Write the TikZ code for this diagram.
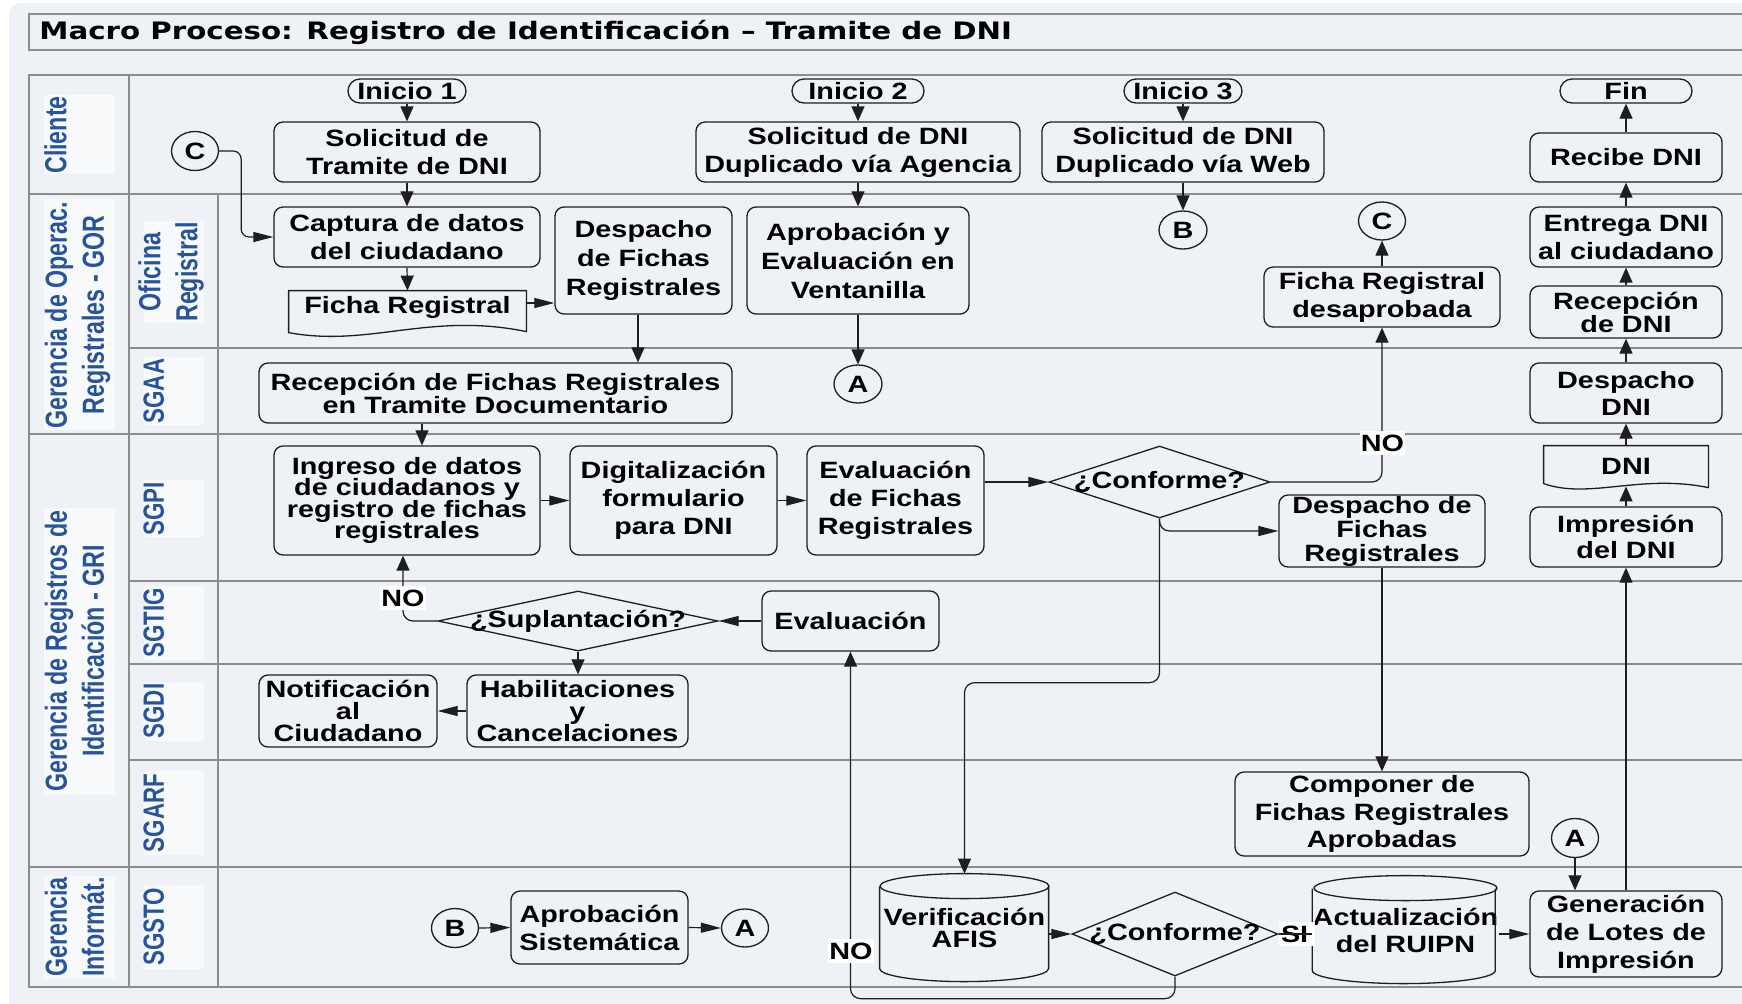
\documentclass[tikz,border=0pt]{standalone}
\usepackage{fontspec}
\usepackage{graphicx}
\usetikzlibrary{arrows.meta,shapes.geometric,calc}
\setmainfont{Liberation Sans}
\newfontfamily\boxfont{Liberation Sans}[FakeStretch=1.22]
\newfontfamily\titlefont{DejaVu Sans}[FakeStretch=1.22]
\newfontfamily\lanefont{Liberation Sans}[FakeStretch=0.93]
\definecolor{pagebg}{HTML}{EEF1F6}
\definecolor{labelbg}{HTML}{F8F9FB}
\definecolor{lanetext}{HTML}{28549A}
\definecolor{gridline}{HTML}{8C8C8C}
\definecolor{inkline}{HTML}{1E1E1E}

% bold flowchart text, argument = baseline skip in pt
\newcommand{\flowfont}[1]{\boxfont\bfseries\fontsize{11.8pt}{#1pt}\selectfont\lineskiplimit=-20pt\relax}
% lane captions, widened across the text direction
\newcommand{\lanetxt}[1]{\scalebox{1}[1.22]{\lanefont\bfseries\fontsize{12.5pt}{15.2pt}\selectfont\begin{tabular}{@{}c@{}}#1\end{tabular}}}
\newcommand{\lanetxtb}[1]{\scalebox{1}[1.22]{\lanefont\bfseries\fontsize{12pt}{14pt}\selectfont\begin{tabular}{@{}c@{}}#1\end{tabular}}}
% database drum drawn around a named node: #1 node, #2 half width
\newcommand{\drawdrum}[2]{%
  \draw[shapeline] (#1.north west) ++(0,13) -- ++(0,82)
     arc[start angle=180,end angle=360,x radius=#2,y radius=6.5pt] -- ++(0,-82);
  \draw[shapeline] ($(#1.north)+(0,12.5)$) ellipse[x radius=#2,y radius=6.25pt];}

\tikzset{
  px/.style 2 args={minimum width=#1*0.5pt, minimum height=#2*0.5pt},
  shapeline/.style={draw=inkline, line width=0.65pt},
  proc/.style={shapeline, rounded corners=4.5pt, inner sep=0pt, align=center, font=\flowfont{14}},
  lead/.style={font=\flowfont{#1}},
  term/.style={proc, rounded corners=6pt},
  conn/.style={shapeline, ellipse, inner sep=0pt, font=\flowfont{14}},
  bare/.style={inner sep=0pt, align=center, font=\flowfont{14}},
  decision/.style={shapeline, diamond, inner sep=0pt, font=\flowfont{14}},
  flow/.style={draw=inkline, line width=0.6pt},
  ah/.style={flow, -{Triangle[length=10pt,width=5pt]}},
  av/.style={flow, -{Triangle[length=7.5pt,width=6.5pt]}},
  tag/.style={fill=white, inner xsep=0.5pt, inner ysep=2pt, font=\flowfont{14}},
  tablerule/.style={draw=gridline, line width=1pt},
  lanebox/.style={fill=labelbg},
  lane/.style={rotate=90, text=lanetext, inner sep=0pt},
}

\begin{document}
\begin{tikzpicture}[x=0.5pt, y=-0.5pt]
\useasboundingbox (0,0) rectangle (1742,1003);
\clip (0,0) rectangle (1742,1003);

% sheet
\fill[pagebg, rounded corners=6pt] (9,3) rectangle (1790,1040);

% title bar
\draw[tablerule] (29,14) rectangle (1790,50);
\node[anchor=west, inner sep=0pt, font=\titlefont\bfseries\fontsize{12pt}{14pt}\selectfont] (title) at (39,32)
  {Macro Proceso: Registro de Identificación – Tramite de DNI};

% swimlane table
\draw[tablerule] (29,75) rectangle (1790,987);
\draw[tablerule] (29,194) -- (1790,194);
\draw[tablerule] (29,434) -- (1790,434);
\draw[tablerule] (29,867) -- (1790,867);
\draw[tablerule] (129,348) -- (1790,348);
\draw[tablerule] (129,581) -- (1790,581);
\draw[tablerule] (129,664) -- (1790,664);
\draw[tablerule] (129,760) -- (1790,760);
\draw[tablerule] (129,75) -- (129,987);
\draw[tablerule] (218,194) -- (218,987);

% lane caption backgrounds
\fill[lanebox] (44,95) rectangle (115,174);
\fill[lanebox] (44,199) rectangle (115,430);
\fill[lanebox] (144,221) rectangle (204,323);
\fill[lanebox] (144,357) rectangle (204,425);
\fill[lanebox] (44,508) rectangle (115,795);
\fill[lanebox] (144,480) rectangle (204,537);
\fill[lanebox] (144,586) rectangle (204,660);
\fill[lanebox] (144,682) rectangle (204,741);
\fill[lanebox] (144,771) rectangle (204,855);
\fill[lanebox] (44,876) rectangle (115,978);
\fill[lanebox] (144,885) rectangle (204,969);

% lane captions
\node[lane] (lnCliente) at (59,135) {\lanetxt{Cliente}};
\node[lane] (lnGOR) at (78,315) {\lanetxt{Gerencia de Operac.\\Registrales - GOR}};
\node[lane] (lnOficina) at (171.5,272) {\lanetxt{Oficina\\Registral}};
\node[lane] (lnSGAA) at (157,391) {\lanetxtb{SGAA}};
\node[lane] (lnGRI) at (78,651) {\lanetxt{Gerencia de Registros de\\Identificación - GRI}};
\node[lane] (lnSGPI) at (157,509) {\lanetxtb{SGPI}};
\node[lane] (lnSGTIG) at (157,623) {\lanetxtb{SGTIG}};
\node[lane] (lnSGDI) at (157,711) {\lanetxtb{SGDI}};
\node[lane] (lnSGARF) at (157,813) {\lanetxtb{SGARF}};
\node[lane] (lnGI) at (78,927) {\lanetxt{Gerencia\\Informát.}};
\node[lane] (lnSGSTO) at (157,927) {\lanetxtb{SGSTO}};

% ---- Cliente
\node[term, px={118}{24}] (ini1) at (407,91) {Inicio 1};
\node[term, px={132}{24}] (ini2) at (858,91) {Inicio 2};
\node[term, px={118}{24}] (ini3) at (1183,91) {Inicio 3};
\node[term, px={132}{24}] (fin) at (1626,91) {Fin};
\node[proc, px={266}{60}] (sol1) at (407,152) {Solicitud de\\Tramite de DNI};
\node[proc, px={324}{60}] (sol2) at (858,152) {Solicitud de DNI\\Duplicado vía Agencia};
\node[proc, px={282}{60}] (sol3) at (1183,152) {Solicitud de DNI\\Duplicado vía Web};
\node[proc, px={192}{49}] (recibe) at (1626,157.5) {Recibe DNI};
\node[conn, px={47}{39}] (cC1) at (195,151) {C};

% ---- Oficina Registral
\node[proc, px={266}{60}] (captura) at (407,237) {Captura de datos\\del ciudadano};
\node[bare, px={237}{32}] (ficha) at (407.5,307) {Ficha Registral};
\draw[shapeline] (ficha.north west) -- (ficha.north east) -- ($(ficha.north east)+(0,41)$)
  .. controls ($(ficha.north west)+(141,21)$) and ($(ficha.north west)+(81,57)$) .. ($(ficha.north west)+(0,42)$) -- cycle;
\node[proc, lead=14.5, px={177}{107}] (despacho1) at (643.5,260.5) {Despacho\\de Fichas\\Registrales};
\node[proc, lead=14.5, px={222}{107}] (aprob) at (858,260.5) {Aprobación y\\Evaluación en\\Ventanilla};
\node[conn, px={48}{38}] (cB1) at (1183,230) {B};
\node[conn, px={47}{38}] (cC2) at (1382,221) {C};
\node[proc, px={236}{60}] (desaprob) at (1382,297) {Ficha Registral\\desaprobada};
\node[proc, px={192}{60}] (entrega) at (1626,237) {Entrega DNI\\al ciudadano};
\node[proc, lead=11.5, px={192}{52}] (recepDNI) at (1626,312) {Recepción\\de DNI};

% ---- SGAA
\node[proc, lead=11.5, px={473}{60}] (recepF) at (495.5,393) {Recepción de Fichas Registrales\\en Tramite Documentario};
\node[conn, px={48}{38}] (cA1) at (858,384) {A};
\node[proc, lead=13.5, px={192}{60}] (despDNI) at (1626,393) {Despacho\\DNI};

% ---- SGPI
\node[proc, lead=10.8, px={266}{109}] (ingreso) at (407,500.5) {Ingreso de datos\\de ciudadanos y\\registro de fichas\\registrales};
\node[proc, px={207}{109}] (digital) at (673.5,500.5) {Digitalización\\formulario\\para DNI};
\node[proc, px={177}{109}] (evalF) at (895.5,500.5) {Evaluación\\de Fichas\\Registrales};
\node[decision, px={221}{72}] (conf1) at (1159.5,482) {\makebox[0pt]{¿Conforme?}};
\node[proc, lead=12, px={206}{72}] (despF2) at (1382,531) {Despacho de\\Fichas\\Registrales};
\node[bare, px={164}{40}] (dni) at (1626,466) {DNI};
\draw[shapeline] (dni.north west) -- (dni.north east) -- ($(dni.north east)+(0,42)$)
  .. controls ($(dni.north west)+(96,28)$) and ($(dni.north west)+(46,54)$) .. ($(dni.north west)+(0,38)$) -- cycle;
\node[proc, lead=12.8, px={192}{60}] (impresion) at (1626,537) {Impresión\\del DNI};

% ---- SGTIG
\node[decision, px={280}{60}] (supl) at (578,621) {\makebox[0pt]{¿Suplantación?}};
\node[proc, px={177}{60}] (evalu) at (850.5,621) {Evaluación};

% ---- SGDI
\node[proc, lead=11, px={178}{72}] (notif) at (348,711) {Notificación\\al\\Ciudadano};
\node[proc, lead=11, px={221}{72}] (habil) at (577.5,711) {Habilitaciones\\y\\Cancelaciones};

% ---- SGARF
\node[proc, lead=13.7, px={294}{84}] (componer) at (1382,814) {Componer de\\Fichas Registrales\\Aprobadas};
\node[conn, px={47}{39}] (cA2) at (1575,838) {A};

% ---- SGSTO
\node[conn, px={47}{39}] (cB2) at (455,928) {B};
\node[proc, px={177}{73}] (aprobSis) at (599.5,927.5) {Aprobación\\Sistemática};
\node[conn, px={47}{38}] (cA3) at (745,928) {A};
\node[bare, lead=11, px={169}{108}] (afis) at (964.5,928) {Verificación\\AFIS};
\drawdrum{afis}{42.25pt}
\node[decision, px={206}{84}] (conf2) at (1175,934) {\makebox[0pt]{¿Conforme?}};
\node[bare, lead=13.5, px={183}{108}] (ruipn) at (1405.5,930) {Actualización\\del RUIPN};
\drawdrum{ruipn}{45.75pt}
\node[proc, px={192}{86}] (generacion) at (1626,934) {Generación\\de Lotes de\\Impresión};

% ---- connectors
\draw[av] (ini1.south) -- (sol1.north);
\draw[av] (sol1.south) -- (captura.north);
\draw[av] (captura.south) -- (ficha.north);
\draw[ah, rounded corners=4pt] (cC1.east) -- ++(22,0) |- (captura.west);
\draw[ah] ([yshift=2pt]ficha.east) -- ([yshift=2pt]ficha.east -| despacho1.west);
\draw[av] ([xshift=-2.75pt]despacho1.south) -- ([xshift=-2.75pt]despacho1.south |- recepF.north);
\draw[av] ([xshift=-36.75pt]recepF.south) -- ([xshift=7.5pt]ingreso.north);
\draw[av] (ini2.south) -- (sol2.north);
\draw[av] (sol2.south) -- (aprob.north);
\draw[av] (aprob.south) -- (cA1.north);
\draw[av] (ini3.south) -- (sol3.north);
\draw[av] (sol3.south) -- (cB1.north);
\draw[av] (desaprob.north) -- (cC2.south);
\draw[av] (recibe.north) -- (fin.south);
\draw[av] (entrega.north) -- (recibe.south);
\draw[av] (recepDNI.north) -- (entrega.south);
\draw[av] (despDNI.north) -- (recepDNI.south);
\draw[av] (dni.north) -- (despDNI.south);
\draw[av] (impresion.north) -- (dni.south);
\draw[av] (generacion.north) -- (impresion.south);
\draw[av] (cA2.south) -- (cA2.south |- generacion.north);
\draw[ah] (ruipn.east |- generacion.west) -- (generacion.west);
\draw[ah] (afis.east |- conf2.west) -- (conf2.west);
\draw[av, rounded corners=5pt] (conf2.south) -- ++(0,22) -| (evalu.south);
\draw[ah] (cB2.east) -- (aprobSis.west);
\draw[ah] (aprobSis.east) -- (cA3.west);
\draw[av, rounded corners=5pt] (supl.west) -| ([xshift=-2pt]ingreso.south);
\draw[ah] (evalu.west) -- (supl.east);
\draw[av] (supl.south) -- (supl.south |- habil.north);
\draw[ah] (habil.west) -- (notif.east);
\draw[ah] (ingreso.east) -- (digital.west);
\draw[ah] (digital.east) -- (evalF.west);
\draw[ah] (evalF.east |- conf1.west) -- (conf1.west);
\draw[av, rounded corners=5pt] (conf1.east) -| (desaprob.south);
\draw[ah, rounded corners=5pt] (conf1.south) |- (despF2.west);
\draw[av, rounded corners=5pt] (conf1.south) -- ++(0,164) -| (afis.north);
\draw[av] (despF2.south) -- (componer.north);

% branch labels
\node[tag] (no1) at (1382.5,443) {NO};
\node[tag] (no2) at (403,598) {NO};
\node[tag] (no3) at (851,951) {NO};
\node[tag, inner xsep=0pt, minimum width=18pt, text width=16pt] (si1) at (1297,934) {SI};
\draw[flow] (conf2.east) -- (conf2.east -| ruipn.west);
\end{tikzpicture}
\end{document}
